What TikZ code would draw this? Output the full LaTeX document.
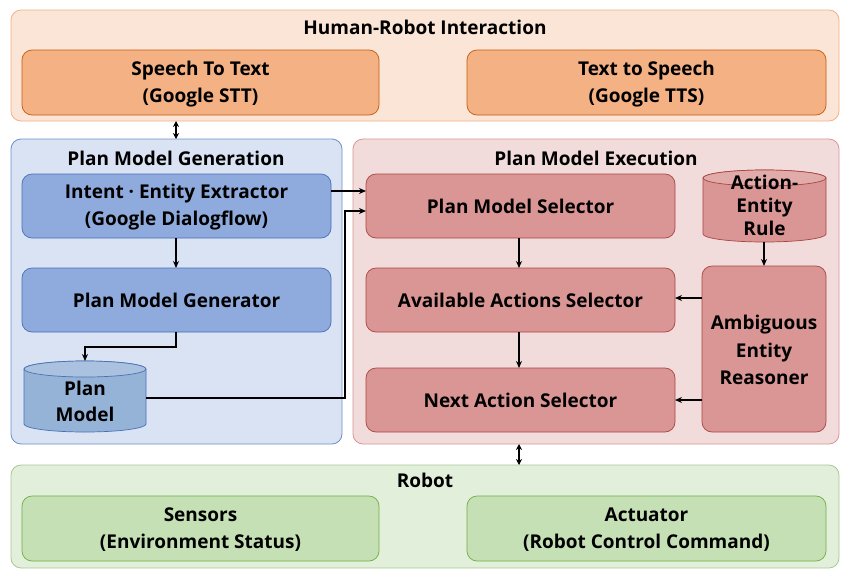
\documentclass[tikz,border=0pt]{standalone}
\usepackage{fontspec}
\setmainfont{Open Sans}
\usetikzlibrary{arrows.meta}
\definecolor{oOut}{HTML}{FBE5D6}
\definecolor{oOutB}{HTML}{F4B183}
\definecolor{oIn}{HTML}{F4B183}
\definecolor{oInB}{HTML}{C55A11}
\definecolor{bOut}{HTML}{DAE3F3}
\definecolor{bOutB}{HTML}{6F8FC8}
\definecolor{bIn}{HTML}{8FAADC}
\definecolor{bInB}{HTML}{4A70B5}
\definecolor{bCyl}{HTML}{95B3D7}
\definecolor{rOut}{HTML}{F2DCDB}
\definecolor{rOutB}{HTML}{C0504D}
\definecolor{rIn}{HTML}{DA9694}
\definecolor{rInB}{HTML}{A94542}
\definecolor{gOut}{HTML}{E2EFDA}
\definecolor{gOutB}{HTML}{A9C996}
\definecolor{gIn}{HTML}{C5E0B4}
\definecolor{gInB}{HTML}{70AD47}
\tikzset{
  lbl/.style={font=\fontsize{19}{27}\selectfont\bfseries, align=center, text=black, inner sep=0pt},
  outer/.style={draw=#1, line width=0.8pt, rounded corners=10pt},
  inner/.style={draw=#1, line width=0.7pt, rounded corners=10pt},
  conn/.style={line width=1.3pt, -{Stealth[length=7pt,width=6pt]}},
  dconn/.style={line width=1.3pt, {Stealth[length=6pt,width=6pt]}-{Stealth[length=6pt,width=6pt]}},
}
\begin{document}
\begin{tikzpicture}[x=1pt,y=-1pt]
\useasboundingbox (0,0) rectangle (852,579);
\fill[white] (0,0) rectangle (852,579);
% outer boxes
\draw[outer=oOutB, fill=oOut] (11,10) rectangle (839,121);
\draw[outer=bOutB, fill=bOut] (11,139) rectangle (342,444);
\draw[outer=rOutB!60, fill=rOut] (353,139) rectangle (839,444);
\draw[outer=gOutB, fill=gOut] (11,465) rectangle (839,568);
\node[lbl] (thri) at (425,27) {Human-Robot Interaction};
\node[lbl] (tpmg) at (176,158) {Plan Model Generation};
\node[lbl] (tpme) at (596,158) {Plan Model Execution};
\node[lbl] (trob) at (425,480) {Robot};
% HRI inner
\draw[inner=oInB, fill=oIn] (22,50) rectangle (379,115);
\node[lbl] (stt) at (200.5,84) {Speech To Text\\(Google STT)};
\draw[inner=oInB, fill=oIn] (467,50) rectangle (826,115);
\node[lbl] (tts) at (646.5,84) {Text to Speech\\(Google TTS)};
% blue
\draw[inner=bInB, fill=bIn] (22,174) rectangle (331,238);
\node[lbl] (iee) at (176.5,207) {Intent · Entity Extractor\\(Google Dialogflow)};
\draw[inner=bInB, fill=bIn] (22,268) rectangle (331,332);
\node[lbl] (pmg) at (176.5,300) {Plan Model Generator};
% plan model cylinder
\draw[bInB, line width=0.7pt, fill=bCyl] (24,369) -- (24,424) arc[start angle=180, end angle=0, x radius=61, y radius=8] -- (146,369) arc[start angle=0, end angle=-180, x radius=61, y radius=8] -- cycle;
\draw[bInB, line width=0.7pt, fill=bCyl!80!white] (85,369) ellipse[x radius=61, y radius=8];
\node[lbl, font=\fontsize{19}{26}\selectfont\bfseries] (pm) at (85,401) {Plan\\Model};
\coordinate (pmtop) at (85,361);
\coordinate (pmright) at (146,398);
% red
\draw[inner=rInB, fill=rIn] (366,174) rectangle (675,238);
\node[lbl] (pms) at (520.5,206) {Plan Model Selector};
\draw[inner=rInB, fill=rIn] (366,268) rectangle (675,332);
\node[lbl] (aas) at (520.5,300) {Available Actions Selector};
\draw[inner=rInB, fill=rIn] (366,368) rectangle (675,432);
\node[lbl] (nas) at (520.5,400) {Next Action Selector};
\draw[inner=rInB, fill=rIn] (702,266) rectangle (826,432);
\node[lbl, font=\fontsize{19}{27.5}\selectfont\bfseries] (aer) at (764,350) {Ambiguous\\Entity\\Reasoner};
\draw[rInB, line width=0.7pt, fill=rIn] (703,178) -- (703,234) arc[start angle=180, end angle=0, x radius=61.5, y radius=8] -- (826,178) arc[start angle=0, end angle=-180, x radius=61.5, y radius=8] -- cycle;
\draw[rInB, line width=0.7pt, fill=rIn!80!white] (764.5,178) ellipse[x radius=61.5, y radius=8];
\node[lbl, font=\fontsize{19}{23}\selectfont\bfseries] (aerule) at (764.5,205) {Action-\\Entity\\Rule};
\coordinate (rulebot) at (764,242);
% green
\draw[inner=gInB, fill=gIn] (22,496) rectangle (379,561);
\node[lbl] (sen) at (200.5,529.5) {Sensors\\(Environment Status)};
\draw[inner=gInB, fill=gIn] (467,496) rectangle (826,561);
\node[lbl] (act) at (646.5,529.5) {Actuator\\(Robot Control Command)};
% connectors
\coordinate (a1) at (176,121); \coordinate (a2) at (176,139);
\draw[dconn] (a1) -- (a2);
\coordinate (b1) at (519,444); \coordinate (b2) at (519,465);
\draw[dconn] (b1) -- (b2);
\draw[conn] (331,191) -- (366,191);
\draw[conn] (pmright) -- (345,398) -- (345,211) -- (366,211);
\draw[conn] (176,238) -- (176,268);
\draw[conn] (176,332) -- (176,347) -- (85,347) -- (pmtop);
\draw[conn] (519,238) -- (519,268);
\draw[conn] (519,332) -- (519,368);
\draw[conn] (rulebot) -- (764,266);
\draw[conn] (702,298) -- (675,298);
\draw[conn] (702,400) -- (675,400);
\end{tikzpicture}
\end{document}
